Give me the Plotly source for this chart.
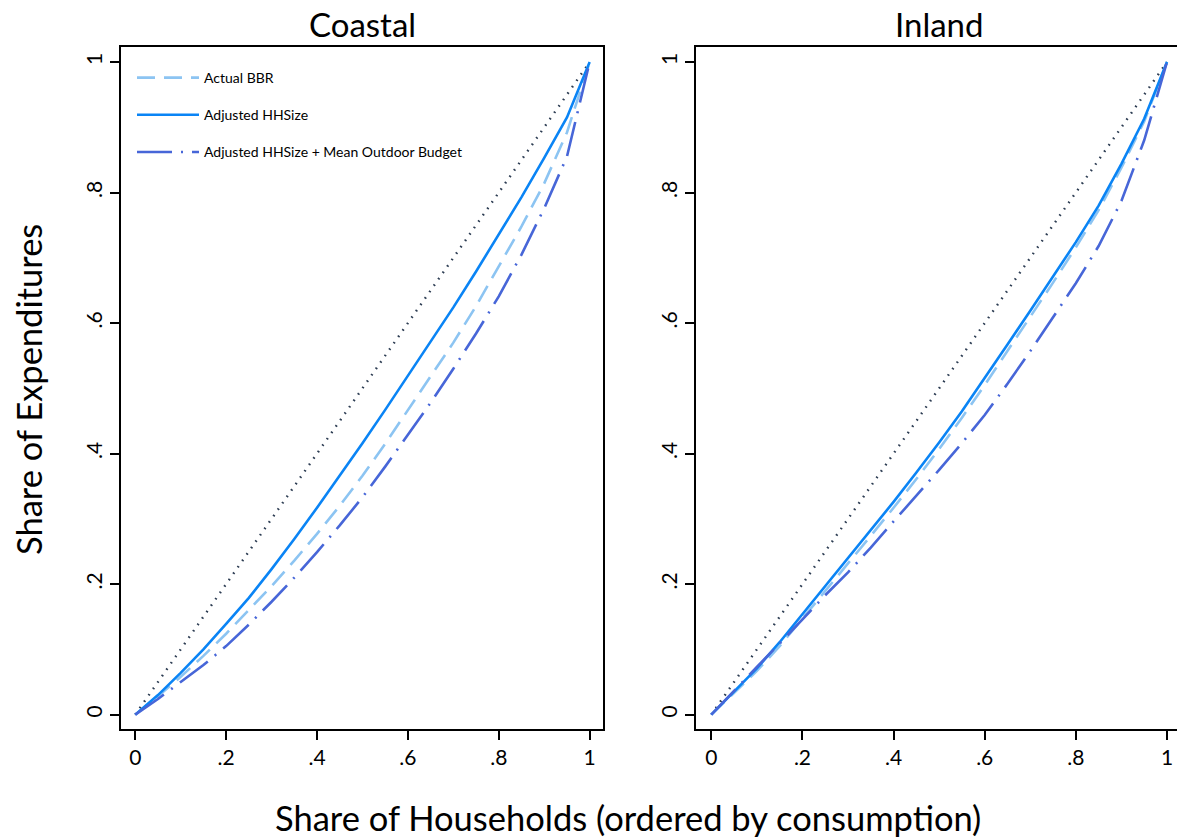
import plotly.graph_objects as go

# ---- data ----
share_households = [0.0, 0.05, 0.10, 0.15, 0.20, 0.25, 0.30, 0.35, 0.40, 0.45, 0.50,
                    0.55, 0.60, 0.65, 0.70, 0.75, 0.80, 0.85, 0.90, 0.95, 1.0]

coastal_actual_bbr = [0, 0.028, 0.058, 0.090, 0.124, 0.160, 0.197, 0.236, 0.277, 0.320, 0.366,
                      0.415, 0.466, 0.518, 0.570, 0.626, 0.687, 0.748, 0.814, 0.892, 1.0]
coastal_adj_hhsize = [0, 0.030, 0.064, 0.100, 0.139, 0.179, 0.223, 0.269, 0.317, 0.366, 0.416,
                      0.467, 0.519, 0.571, 0.624, 0.679, 0.735, 0.793, 0.853, 0.915, 1.0]
coastal_adj_outdoor = [0, 0.024, 0.050, 0.076, 0.105, 0.138, 0.173, 0.210, 0.249, 0.290, 0.333,
                       0.380, 0.429, 0.478, 0.530, 0.584, 0.641, 0.705, 0.776, 0.855, 1.0]

inland_actual_bbr = [0, 0.033, 0.067, 0.105, 0.147, 0.189, 0.231, 0.274, 0.317, 0.361, 0.407,
                     0.455, 0.505, 0.557, 0.609, 0.662, 0.716, 0.773, 0.838, 0.909, 1.0]
inland_adj_hhsize = [0, 0.035, 0.071, 0.111, 0.154, 0.197, 0.240, 0.283, 0.326, 0.371, 0.417,
                     0.465, 0.515, 0.567, 0.619, 0.671, 0.724, 0.780, 0.844, 0.913, 1.0]
inland_adj_outdoor = [0, 0.037, 0.073, 0.109, 0.146, 0.183, 0.218, 0.256, 0.296, 0.335, 0.375,
                      0.416, 0.459, 0.507, 0.557, 0.609, 0.661, 0.718, 0.787, 0.880, 1.0]

equality_x = [0.0, 1.0]
equality_y = [0.0, 1.0]

tick_vals = [0, 0.2, 0.4, 0.6, 0.8, 1.0]
tick_text = ["0", ".2", ".4", ".6", ".8", "1"]

series_names = ["Actual BBR", "Adjusted HHSize", "Adjusted HHSize + Mean Outdoor Budget"]
panel_titles = ["Coastal", "Inland"]

# ---- styles ----
FONT = "Lato"
c_light = "#8cc4f2"
c_solid = "#0a84f5"
c_dashdot = "#4766d8"
c_diag = "#2c3c52"
LW = 2.6

styles = [
    dict(color=c_light, width=LW, dash="18px,9px"),
    dict(color=c_solid, width=LW, dash="solid"),
    dict(color=c_dashdot, width=LW, dash="35px,9px,2px,9px"),
]

fig = go.Figure()

panels = [
    ("x", "y", [coastal_actual_bbr, coastal_adj_hhsize, coastal_adj_outdoor], True),
    ("x2", "y2", [inland_actual_bbr, inland_adj_hhsize, inland_adj_outdoor], False),
]

for xa, ya, series, show in panels:
    fig.add_trace(go.Scatter(x=equality_x, y=equality_y, mode="lines", xaxis=xa, yaxis=ya,
                             line=dict(color=c_diag, width=2.4, dash="1.6px,6.2px"),
                             showlegend=False, hoverinfo="skip"))
    for i, (vals, name) in enumerate(zip(series, series_names)):
        fig.add_trace(go.Scatter(x=share_households, y=vals, mode="lines", name=name,
                                 xaxis=xa, yaxis=ya, line=styles[i],
                                 legendgroup="g%d" % i, showlegend=show))

W, H = 1177, 838
left_dom = [120.7 / W, 603.3 / W]
right_dom = [696.0 / W, 1.0]
y_dom = [1 - 729.0 / H, 1 - 47.0 / H]

axis_common = dict(showline=True, linecolor="black", linewidth=1.5, ticks="outside",
                   ticklen=9, tickwidth=1.5, tickcolor="black", showgrid=False,
                   zeroline=False, tickvals=tick_vals, ticktext=tick_text,
                   tickfont=dict(family=FONT, size=21, color="black"))

fig.update_layout(
    width=W, height=H,
    margin=dict(l=0, r=0, t=0, b=0),
    paper_bgcolor="white", plot_bgcolor="white",
    font=dict(family=FONT, color="black"),
    xaxis=dict(domain=left_dom, range=[-0.032, 1.030], mirror=True, anchor="y", **axis_common),
    yaxis=dict(domain=y_dom, range=[-0.022, 1.023], mirror=True, anchor="x", tickangle=-90, **axis_common),
    xaxis2=dict(domain=right_dom, range=[-0.0336, 1.022], mirror=True, anchor="y2", **axis_common),
    yaxis2=dict(domain=y_dom, range=[-0.022, 1.023], mirror=False, anchor="x2", tickangle=-90, **axis_common),
    legend=dict(x=132 / W, y=1 - 62.0 / H, xanchor="left", yanchor="top",
                bgcolor="rgba(0,0,0,0)", borderwidth=0,
                font=dict(family=FONT, size=14, color="black"),
                itemwidth=62, tracegroupgap=16, traceorder="grouped"),
    showlegend=True,
)

annotations = [
    dict(text=panel_titles[0], x=362.0 / W, y=1 - 24.0 / H, xref="paper", yref="paper",
         showarrow=False, font=dict(family=FONT, size=33, color="black"), xanchor="center", yanchor="middle"),
    dict(text=panel_titles[1], x=939.0 / W, y=1 - 24.0 / H, xref="paper", yref="paper",
         showarrow=False, font=dict(family=FONT, size=33, color="black"), xanchor="center", yanchor="middle"),
    dict(text="Share of Households (ordered by consumption)", x=628.0 / W, y=1 - 817.0 / H,
         xref="paper", yref="paper", showarrow=False,
         font=dict(family=FONT, size=34.5, color="black"), xanchor="center", yanchor="middle"),
    dict(text="Share of Expenditures", x=28.0 / W, y=1 - 390.0 / H, xref="paper", yref="paper",
         showarrow=False, textangle=-90,
         font=dict(family=FONT, size=34.5, color="black"), xanchor="center", yanchor="middle"),
]
fig.update_layout(annotations=annotations)

fig.write_html("out.html",
               config={"displayModeBar": False},
               post_script="document.body.style.margin='0';document.body.style.overflow='hidden';")
